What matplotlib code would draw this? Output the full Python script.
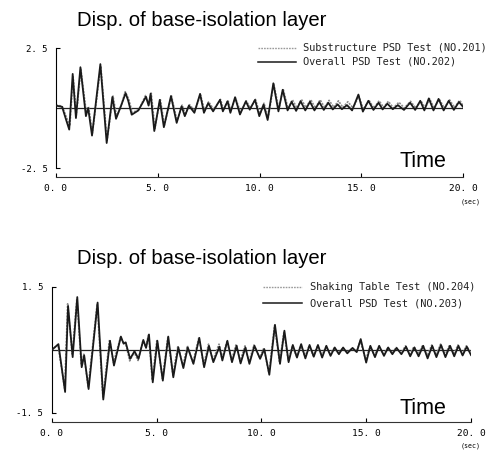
import numpy as np
import matplotlib.pyplot as plt

# ---- data ----
# upper panel: Overall PSD Test (NO.202), solid
t_202 = [0.0, 0.3, 0.5, 0.65, 0.82, 0.98, 1.2, 1.47, 1.58, 1.77, 2.18, 2.49, 2.77,
         2.95, 3.2, 3.42, 3.55, 3.72, 4.05, 4.42, 4.55, 4.65, 4.83, 5.1, 5.3, 5.65,
         5.93, 6.17, 6.33, 6.53, 6.8, 7.08, 7.27, 7.48, 7.72, 8.06, 8.2, 8.43, 8.57,
         8.8, 9.04, 9.33, 9.52, 9.78, 9.99, 10.2, 10.4, 10.68, 10.93, 11.14, 11.38,
         11.58, 11.8, 12.02, 12.25, 12.48, 12.7, 12.94, 13.16, 13.38, 13.6, 13.84,
         14.05, 14.3, 14.55, 14.86, 15.08, 15.35, 15.6, 15.85, 16.05, 16.28, 16.55,
         16.8, 17.1, 17.4, 17.65, 17.9, 18.1, 18.32, 18.55, 18.8, 19.05, 19.3, 19.55,
         19.8, 20.0]
d_202 = [0.1, 0.05, -0.5, -0.9, 1.42, -0.42, 1.7, -0.34, 0.0, -1.15, 1.83, -1.46, 0.46,
         -0.45, 0.1, 0.62, 0.3, -0.28, -0.1, 0.47, 0.1, 0.6, -0.96, 0.34, -0.8, 0.5,
         -0.62, 0.07, -0.34, 0.1, -0.2, 0.59, -0.2, 0.2, -0.14, 0.34, -0.14, 0.28, -0.2,
         0.45, -0.27, 0.28, -0.07, 0.34, -0.34, 0.14, -0.5, 1.03, -0.14, 0.76, -0.1,
         0.26, -0.12, 0.28, -0.1, 0.26, -0.1, 0.24, -0.08, 0.22, -0.06, 0.15,
         -0.05, 0.12, -0.1, 0.56, -0.15, 0.3, -0.08, 0.22, -0.06, 0.18, -0.05,
         0.12, -0.08, 0.22, -0.08, 0.3, -0.1, 0.4, -0.1, 0.38, -0.1, 0.3, -0.08,
         0.25, 0.05]

# upper panel: Substructure PSD Test (NO.201), dotted
t_201 = [0.0, 0.3, 0.52, 0.68, 0.84, 1.0, 1.22, 1.49, 1.6, 1.79, 2.2, 2.51, 2.8,
         2.98, 3.22, 3.4, 3.58, 3.75, 4.08, 4.4, 4.57, 4.68, 4.86, 5.12, 5.33, 5.67,
         5.95, 6.2, 6.36, 6.56, 6.82, 7.1, 7.3, 7.5, 7.75, 8.08, 8.23, 8.45, 8.6,
         8.82, 9.07, 9.35, 9.55, 9.8, 10.02, 10.22, 10.43, 10.7, 10.95, 11.16, 11.4,
         11.62, 11.84, 12.06, 12.28, 12.52, 12.74, 12.98, 13.2, 13.42, 13.65, 13.88,
         14.1, 14.34, 14.6, 14.88, 15.1, 15.38, 15.62, 15.88, 16.1, 16.33, 16.58,
         16.85, 17.12, 17.42, 17.68, 17.93, 18.14, 18.36, 18.58, 18.84, 19.08, 19.34,
         19.58, 19.84, 20.0]
d_201 = [0.12, 0.08, -0.4, -0.75, 1.3, -0.3, 1.62, -0.2, 0.05, -1.05, 1.75, -1.35, 0.5,
         -0.35, 0.15, 0.68, 0.35, -0.2, -0.05, 0.52, 0.15, 0.62, -0.85, 0.38, -0.72, 0.52,
         -0.55, 0.12, -0.28, 0.14, -0.12, 0.55, -0.12, 0.26, -0.06, 0.36, -0.06, 0.32, -0.1,
         0.42, -0.18, 0.3, 0.0, 0.36, -0.25, 0.2, -0.4, 1.0, -0.05, 0.8, 0.0,
         0.34, 0.0, 0.36, 0.02, 0.35, 0.0, 0.34, 0.02, 0.32, 0.03, 0.3,
         0.02, 0.26, 0.0, 0.5, -0.05, 0.32, 0.0, 0.3, 0.02, 0.28, 0.0,
         0.24, 0.0, 0.28, 0.0, 0.3, 0.0, 0.38, 0.0, 0.36, 0.0, 0.34, 0.02,
         0.32, 0.1]

# lower panel: Overall PSD Test (NO.203), solid
t_203 = [0.0, 0.32, 0.64, 0.78, 1.0, 1.22, 1.43, 1.55, 1.76, 2.19, 2.46, 2.78, 2.97,
         3.3, 3.43, 3.53, 3.74, 3.95, 4.14, 4.37, 4.5, 4.64, 4.82, 5.04, 5.3, 5.56,
         5.8, 6.04, 6.28, 6.49, 6.76, 7.04, 7.27, 7.5, 7.71, 8.0, 8.14, 8.38, 8.6,
         8.82, 9.01, 9.24, 9.43, 9.67, 9.94, 10.14, 10.38, 10.65, 10.89, 11.1, 11.3,
         11.5, 11.7, 11.9, 12.1, 12.3, 12.5, 12.7, 12.9, 13.1, 13.3, 13.5, 13.7,
         13.9, 14.1, 14.35, 14.55, 14.74, 15.0, 15.2, 15.42, 15.62, 15.85, 16.05,
         16.25, 16.45, 16.68, 16.9, 17.1, 17.3, 17.5, 17.72, 17.93, 18.15, 18.35,
         18.57, 18.78, 19.0, 19.2, 19.4, 19.6, 19.8, 20.0]
d_203 = [0.0, 0.14, -1.0, 1.05, -0.17, 1.26, -0.41, -0.13, -0.93, 1.13, -1.18, 0.22, -0.37,
         0.32, 0.15, 0.18, -0.21, -0.03, -0.21, 0.24, 0.05, 0.37, -0.77, 0.22, -0.73, 0.32,
         -0.65, 0.06, -0.43, 0.06, -0.33, 0.29, -0.41, 0.1, -0.29, 0.08, -0.25, 0.22, -0.29,
         0.1, -0.32, 0.06, -0.33, 0.1, -0.21, 0.02, -0.59, 0.6, -0.33, 0.46, -0.29,
         0.12, -0.18, 0.14, -0.2, 0.12, -0.16, 0.12, -0.18, 0.1, -0.14, 0.06, -0.1,
         0.06, -0.08, 0.05, -0.05, 0.26, -0.3, 0.1, -0.17, 0.1, -0.14, 0.06,
         -0.1, 0.05, -0.1, 0.08, -0.15, 0.06, -0.15, 0.1, -0.2, 0.1, -0.17,
         0.12, -0.17, 0.1, -0.15, 0.1, -0.13, 0.08, -0.12]

# lower panel: Shaking Table Test (NO.204), dotted
t_204 = [0.0, 0.3, 0.62, 0.76, 0.98, 1.2, 1.41, 1.53, 1.74, 2.17, 2.44, 2.76, 2.95,
         3.28, 3.41, 3.51, 3.72, 3.93, 4.12, 4.35, 4.48, 4.62, 4.8, 5.02, 5.28, 5.54,
         5.78, 6.02, 6.26, 6.47, 6.74, 7.02, 7.25, 7.48, 7.69, 7.98, 8.12, 8.36, 8.58,
         8.8, 8.99, 9.22, 9.41, 9.65, 9.92, 10.12, 10.36, 10.63, 10.87, 11.08, 11.28,
         11.48, 11.68, 11.88, 12.08, 12.28, 12.48, 12.68, 12.88, 13.08, 13.28, 13.48,
         13.68, 13.88, 14.08, 14.33, 14.53, 14.72, 14.98, 15.18, 15.4, 15.6, 15.83,
         16.03, 16.23, 16.43, 16.66, 16.88, 17.08, 17.28, 17.48, 17.7, 17.91, 18.13,
         18.33, 18.55, 18.76, 18.98, 19.18, 19.38, 19.58, 19.78, 20.0]
d_204 = [0.0, 0.12, -0.92, 1.1, -0.1, 1.22, -0.35, -0.1, -0.88, 1.1, -1.12, 0.25, -0.3,
         0.3, 0.18, 0.2, -0.26, -0.05, -0.25, 0.22, 0.08, 0.36, -0.72, 0.25, -0.68, 0.3,
         -0.6, 0.1, -0.38, 0.1, -0.3, 0.3, -0.36, 0.14, -0.25, 0.14, -0.2, 0.2, -0.24,
         0.14, -0.27, 0.1, -0.28, 0.12, -0.18, 0.05, -0.55, 0.58, -0.3, 0.44, -0.25,
         0.1, -0.15, 0.12, -0.16, 0.1, -0.14, 0.1, -0.14, 0.08, -0.1, 0.05, -0.08,
         0.05, -0.06, 0.04, -0.04, 0.22, -0.24, 0.08, -0.13, 0.08, -0.1, 0.05,
         -0.08, 0.06, -0.08, 0.1, -0.1, 0.08, -0.1, 0.12, -0.14, 0.12, -0.12,
         0.14, -0.12, 0.12, -0.1, 0.12, -0.1, 0.1, -0.08]

x_ticks = [0, 5, 10, 15, 20]
x_ticklabels = ['0. 0', '5. 0', '10. 0', '15. 0', '20. 0']

panels = [
    dict(rect=[56 / 492, 1 - 177 / 451, 407 / 492, 129 / 451], lim=2.5,
         lab=['2. 5', '-2. 5'], dotted=(t_201, d_201), solid=(t_202, d_202),
         names=['Substructure PSD Test (NO.201)', 'Overall PSD Test (NO.202)'],
         title_y=1 - 20 / 451, time_y=1 - 162 / 451, sec_y=1 - 202 / 451,
         leg_x=(258, 296, 303), leg_y=(48, 62)),
    dict(rect=[51.7 / 492, 1 - 422 / 451, 419.3 / 492, 135 / 451], lim=1.5,
         lab=['1. 5', '-1. 5'], dotted=(t_204, d_204), solid=(t_203, d_203),
         names=['Shaking Table Test (NO.204)', 'Overall PSD Test (NO.203)'],
         title_y=1 - 259 / 451, time_y=1 - 408 / 451, sec_y=1 - 446 / 451,
         leg_x=(263, 302, 310), leg_y=(287, 303)),
]

mono = 'DejaVu Sans Mono'
dot_style = dict(color='#8c8c8c', lw=1.2, ls=(0, (1.2, 0.7)))
solid_style = dict(color='#1a1a1a', lw=1.3, solid_joinstyle='round')

fig = plt.figure(figsize=(4.92, 4.51), dpi=100)

for p in panels:
    lim = p['lim']
    ax = fig.add_axes(p['rect'])
    # axis line sits 9 px below the lowest y value
    ax.set_ylim(-lim - 9 * (2 * lim) / (p['rect'][3] * 451 - 9), lim)
    ax.set_xlim(0, 20)
    ax.axhline(0, color='#222222', lw=0.9, zorder=1)
    ax.plot(*p['dotted'], zorder=2, **dot_style)
    ax.plot(*p['solid'], zorder=3, **solid_style)

    for s in ['top', 'right']:
        ax.spines[s].set_visible(False)
    ax.spines['left'].set_bounds(-lim, lim)
    ax.spines['left'].set_linewidth(0.8)
    ax.spines['bottom'].set_linewidth(0.8)
    ax.spines['bottom'].set_color('#333333')
    ax.set_yticks([lim, -lim])
    ax.set_yticklabels(p['lab'], family=mono, fontsize=6.5)
    ax.set_xticks(x_ticks)
    ax.set_xticklabels(x_ticklabels, family=mono, fontsize=6.8)
    ax.tick_params(axis='y', direction='in', length=3, width=0.8, pad=6)
    ax.tick_params(axis='x', direction='in', length=3, width=0.8, pad=5)

    # title and annotations
    fig.text(77 / 492, p['title_y'], 'Disp. of base-isolation layer',
             family='Liberation Sans', fontsize=14.6, va='center', ha='left')
    fig.text(400 / 492, p['time_y'], 'Time', family='Liberation Sans',
             fontsize=15.5, va='center', ha='left')
    fig.text(481 / 492, p['sec_y'], '(sec)', family=mono, fontsize=4.8,
             va='center', ha='right')

    # legend drawn like the original: short sample line + monospace text
    x0, x1, xt = p['leg_x']
    styles = [dict(color='#9a9a9a', lw=1.0, ls=(0, (1.2, 0.8))),
              dict(color='#1a1a1a', lw=1.1)]
    for name, yy, st in zip(p['names'], p['leg_y'], styles):
        fy = 1 - yy / 451
        fig.add_artist(plt.Line2D([x0 / 492, x1 / 492], [fy, fy], **st))
        fig.text(xt / 492, fy, name, family=mono, fontsize=7.4,
                 va='center', ha='left', color='#222222')

fig.savefig('out.png', dpi=100)
